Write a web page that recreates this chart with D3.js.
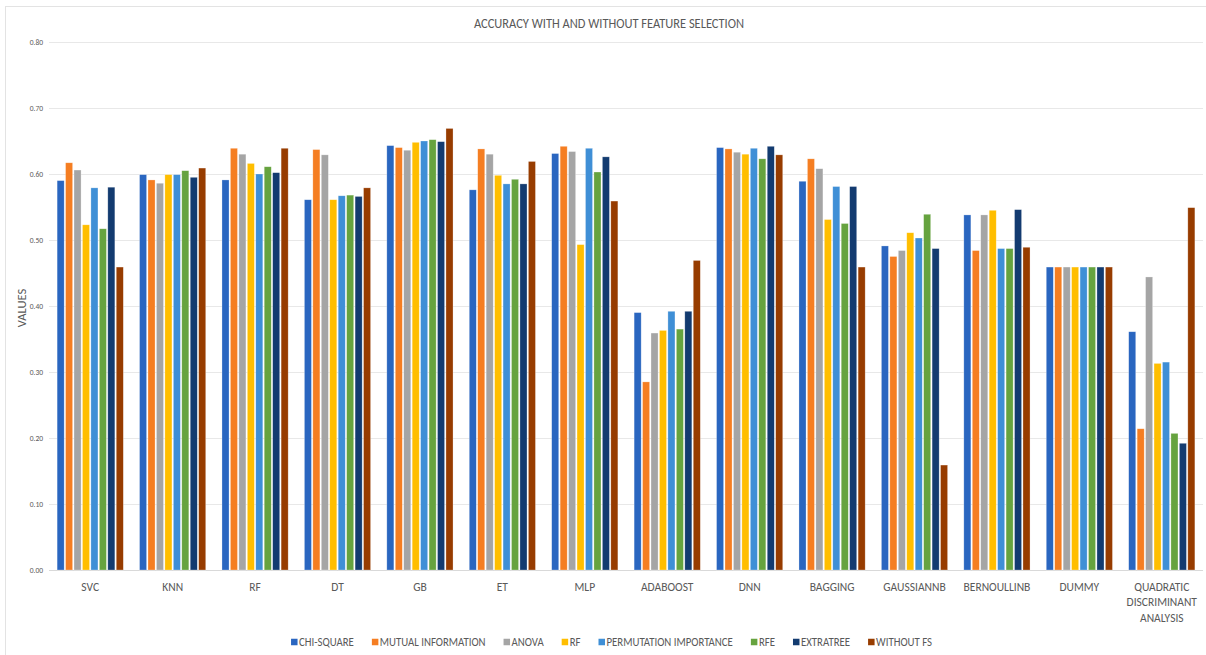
<!DOCTYPE html>
<html>
<head>
<meta charset="utf-8">
<script src="https://cdn.jsdelivr.net/npm/d3@7"></script>
<style>
  html, body { margin: 0; padding: 0; background: #fff; }
  svg { display: block; }
  text { font-family: Carlito, "Liberation Sans Narrow", "Open Sans", sans-serif; fill: #595959; }
</style>
</head>
<body>
<svg id="chart" width="1206" height="655"></svg>
<script>
// Classifiers on the x axis
const categories = ["SVC", "KNN", "RF", "DT", "GB", "ET", "MLP", "ADABOOST", "DNN",
  "BAGGING", "GAUSSIANNB", "BERNOULLINB", "DUMMY", "QUADRATIC DISCRIMINANT ANALYSIS"];

// Feature-selection methods (series)
const seriesNames = ["CHI-SQUARE", "MUTUAL INFORMATION", "ANOVA", "RF",
  "PERMUTATION IMPORTANCE", "RFE", "EXTRATREE", "WITHOUT FS"];

// Accuracy per series, one value per classifier
const chiSquare   = [0.590, 0.599, 0.591, 0.561, 0.643, 0.576, 0.631, 0.390, 0.640, 0.589, 0.491, 0.538, 0.459, 0.361];
const mutualInfo  = [0.617, 0.591, 0.639, 0.637, 0.640, 0.638, 0.642, 0.285, 0.638, 0.623, 0.475, 0.484, 0.459, 0.214];
const anova       = [0.606, 0.586, 0.630, 0.629, 0.636, 0.630, 0.634, 0.359, 0.633, 0.608, 0.484, 0.538, 0.459, 0.444];
const rfSel       = [0.523, 0.599, 0.616, 0.561, 0.648, 0.598, 0.493, 0.363, 0.630, 0.531, 0.511, 0.545, 0.459, 0.313];
const permImp     = [0.579, 0.599, 0.600, 0.567, 0.650, 0.585, 0.639, 0.392, 0.639, 0.581, 0.503, 0.487, 0.459, 0.315];
const rfe         = [0.517, 0.605, 0.611, 0.568, 0.652, 0.592, 0.603, 0.365, 0.623, 0.525, 0.539, 0.487, 0.459, 0.207];
const extraTree   = [0.580, 0.595, 0.602, 0.566, 0.649, 0.585, 0.626, 0.392, 0.642, 0.581, 0.487, 0.546, 0.459, 0.192];
const withoutFs   = [0.459, 0.609, 0.639, 0.579, 0.669, 0.619, 0.559, 0.469, 0.629, 0.459, 0.159, 0.489, 0.459, 0.549];

const seriesValues = [chiSquare, mutualInfo, anova, rfSel, permImp, rfe, extraTree, withoutFs];
const seriesColors = ["#2A66C0", "#F57E22", "#A5A5A5", "#FFBE00", "#3F8FD6", "#66A33F", "#133B70", "#973C00"];

const yTicks = [0, 0.1, 0.2, 0.3, 0.4, 0.5, 0.6, 0.7, 0.8];
const titleText = "ACCURACY WITH AND WITHOUT FEATURE SELECTION";
const yAxisTitle = "VALUES";

const svg = d3.select("#chart");
const W = 1206, H = 655;
const margin = { top: 42, right: 3, bottom: 85, left: 49 };
const innerW = W - margin.left - margin.right;
const innerH = H - margin.top - margin.bottom;

// Condense text horizontally (narrow, Calibri-like look)
function squeeze(factor) {
  return sel => sel.each(function () {
    const len = this.getComputedTextLength();
    d3.select(this).attr("textLength", len * factor).attr("lengthAdjust", "spacingAndGlyphs");
  });
}

// Outer chart border
svg.append("rect")
  .attr("x", 5.5).attr("y", 6.5)
  .attr("width", W + 10).attr("height", H + 10)
  .attr("fill", "#fff").attr("stroke", "#E3E3E3").attr("stroke-width", 1);

const g = svg.append("g").attr("transform", `translate(${margin.left},${margin.top})`);

const x0 = d3.scaleBand().domain(categories).range([0, innerW]).paddingInner(0.18).paddingOuter(0.09);
const x1 = d3.scaleBand().domain(d3.range(seriesNames.length)).range([0, x0.bandwidth()]);
const y = d3.scaleLinear().domain([0, 0.8]).range([innerH, 0]);

// Horizontal gridlines
g.append("g").selectAll("line").data(yTicks).join("line")
  .attr("x1", 0).attr("x2", innerW)
  .attr("y1", d => Math.round(y(d)) + 0.5).attr("y2", d => Math.round(y(d)) + 0.5)
  .attr("stroke", d => d === 0 ? "#D9D9D9" : "#E8E8E8").attr("stroke-width", 1.2);

// Y axis tick labels
const yAxis = d3.axisLeft(y).tickValues(yTicks).tickFormat(d3.format(".2f")).tickSize(0).tickPadding(6);
const ya = g.append("g").call(yAxis);
ya.select(".domain").remove();
ya.selectAll("text").attr("font-size", 7.5).style("fill", "#595959").attr("font-family", null);

// Bars
const groups = g.append("g").selectAll("g").data(categories).join("g")
  .attr("transform", d => `translate(${x0(d)},0)`);
groups.selectAll("rect")
  .data((d, ci) => seriesValues.map((vals, si) => ({ si, v: vals[ci] })))
  .join("rect")
  .attr("x", d => x1(d.si) + 0.7)
  .attr("width", x1.bandwidth() - 1.4)
  .attr("y", d => y(d.v))
  .attr("height", d => y(0) - y(d.v))
  .attr("fill", d => seriesColors[d.si])
  .attr("stroke", "#ffffff").attr("stroke-opacity", 0.45).attr("stroke-width", 0.6);

// X axis category labels (wrapped)
const xLabels = g.append("g").selectAll("text").data(categories).join("text")
  .attr("text-anchor", "middle")
  .attr("font-size", 11.5)
  .attr("transform", d => `translate(${x0(d) + x0.bandwidth() / 2},${innerH + 20.5})`);
xLabels.each(function (d) {
  const words = d.split(" ");
  const t = d3.select(this);
  words.forEach((w, i) => {
    t.append("tspan").attr("x", 0).attr("y", i * 15.5).text(w);
  });
});

// Title
svg.append("text")
  .attr("x", 609).attr("y", 28)
  .attr("text-anchor", "middle")
  .attr("font-size", 14)
  .text(titleText)
  .attr("textLength", 270).attr("lengthAdjust", "spacingAndGlyphs");

// Y axis title
svg.append("text")
  .attr("transform", "translate(26,308) rotate(-90)")
  .attr("text-anchor", "middle")
  .attr("font-size", 12.5)
  .text(yAxisTitle);

// Legend
const legend = svg.append("g").attr("transform", "translate(0,642)");
const items = legend.selectAll("g").data(seriesNames).join("g");
items.append("rect")
  .attr("width", 6.5).attr("height", 6.5).attr("y", -3.25)
  .attr("fill", (d, i) => seriesColors[i]);
items.append("text")
  .attr("x", 8).attr("dy", "0.35em")
  .attr("font-size", 12)
  .text(d => d)
  .call(squeeze(0.9));
let cursor = 0;
const offsets = [];
const itemGap = 18;
items.each(function () {
  const tw = +d3.select(this).select("text").attr("textLength");
  offsets.push(cursor);
  cursor += 8 + tw + itemGap;
});
const totalW = cursor - itemGap;
const startX = 611.5 - totalW / 2;
items.attr("transform", (d, i) => `translate(${startX + offsets[i]},0)`);
</script>
</body>
</html>
